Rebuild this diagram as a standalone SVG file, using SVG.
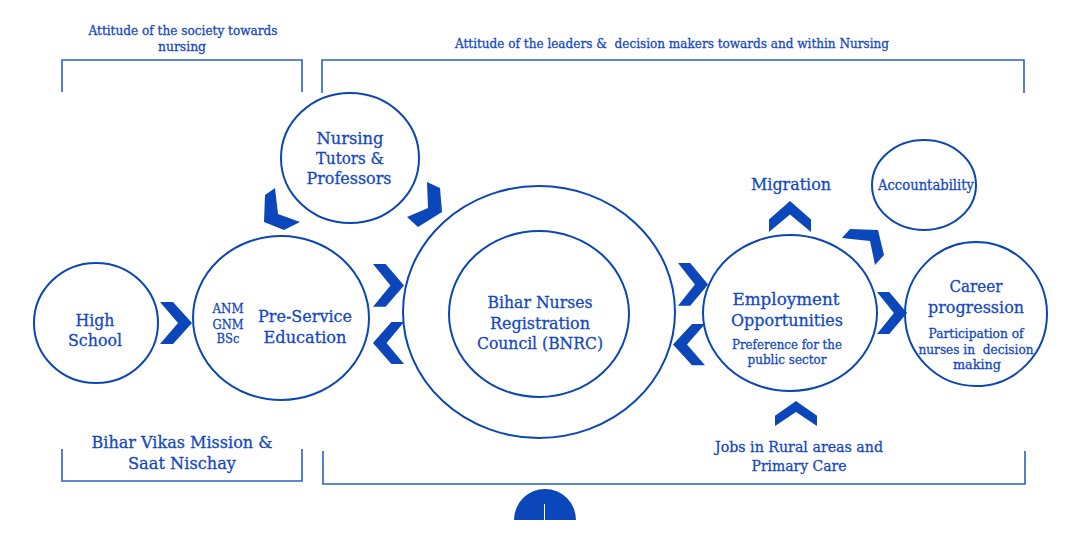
<svg xmlns="http://www.w3.org/2000/svg" xmlns:xlink="http://www.w3.org/1999/xlink" width="1086" height="541" viewBox="0 0 1086 541">
<style>
.node{fill:none;stroke:#0b46b5;stroke-width:2}
.br{fill:none;stroke:#2a62c9;stroke-width:1.6}
.chev{fill:#0b47bb}
text{font-family:"DejaVu Serif","Liberation Serif",serif;fill:#1448bf;stroke:#1448bf;stroke-width:0.3;text-anchor:middle}
.big{font-size:17px}
.mid{font-size:15.5px}
.sm{font-size:13px}
.xs{font-size:12.5px}
</style>
<defs>
<path id="chev" d="M0,0 H13 L32,21 L13,42 H0 L18,21 Z"/>
</defs>
<rect width="1086" height="541" fill="#ffffff"/>

<g id="brackets">
<path class="br" d="M62,92 V60 H302 V92"/>
<path class="br" d="M322,93 V60 H1024 V93"/>
<path class="br" d="M62,449 V481 H302 V449"/>
<path class="br" d="M323,451 V484 H1025 V451"/>
</g>

<g id="labels">
<text class="sm" x="183" y="35" textLength="189" lengthAdjust="spacingAndGlyphs">Attitude of the society towards</text>
<text class="sm" x="182" y="51" textLength="48" lengthAdjust="spacingAndGlyphs">nursing</text>
<text class="sm" x="672" y="48" textLength="434" lengthAdjust="spacingAndGlyphs" xml:space="preserve">Attitude of the leaders &amp;  decision makers towards and within Nursing</text>
<text class="big" x="182" y="448" textLength="181" lengthAdjust="spacingAndGlyphs">Bihar Vikas Mission &amp;</text>
<text class="big" x="182" y="469" textLength="108" lengthAdjust="spacingAndGlyphs">Saat Nischay</text>
<text class="mid" x="799" y="452" textLength="168" lengthAdjust="spacingAndGlyphs">Jobs in Rural areas and</text>
<text class="mid" x="799" y="471" textLength="95" lengthAdjust="spacingAndGlyphs">Primary Care</text>
<text class="big" x="791" y="190" textLength="80" lengthAdjust="spacingAndGlyphs">Migration</text>
</g>

<g id="connectors">
<use href="#chev" class="chev" transform="translate(160,302)"/>
<use href="#chev" class="chev" transform="translate(373,264) scale(0.97,1.02)"/>
<use href="#chev" class="chev" transform="translate(404,322) scale(-0.97,1)"/>
<use href="#chev" class="chev" transform="translate(678,263) scale(0.94,1.02)"/>
<use href="#chev" class="chev" transform="translate(705,324) scale(-1,0.98)"/>
<use href="#chev" class="chev" transform="translate(877,292) scale(0.94,1)"/>
<use href="#chev" class="chev" transform="translate(769,232) rotate(-90) scale(0.97,1)"/>
<use href="#chev" class="chev" transform="translate(775,426) rotate(-90) scale(0.78,1)"/>
<path class="chev" d="M265,195 L275,188 L278,214 L300,222 L284,230 L264,222 Z"/>
<path class="chev" d="M427,182 L440,188 L442,212 L418,227 L407,217 L428,208 Z"/>
<path class="chev" d="M842,238 L850,229 L878,230 L884,255 L875,265 L870,241 Z"/>
</g>

<g id="high-school">
<ellipse class="node" cx="96" cy="323" rx="62" ry="60"/>
<text class="big" x="95" y="326" textLength="39" lengthAdjust="spacingAndGlyphs">High</text>
<text class="big" x="95" y="346" textLength="54" lengthAdjust="spacingAndGlyphs">School</text>
</g>

<g id="pre-service">
<ellipse class="node" cx="281" cy="318" rx="88" ry="82"/>
<text class="sm" x="228" y="313" textLength="31" lengthAdjust="spacingAndGlyphs">ANM</text>
<text class="sm" x="228" y="329" textLength="31" lengthAdjust="spacingAndGlyphs">GNM</text>
<text class="sm" x="228" y="343" textLength="23" lengthAdjust="spacingAndGlyphs">BSc</text>
<text class="big" x="305" y="322" textLength="94" lengthAdjust="spacingAndGlyphs">Pre-Service</text>
<text class="big" x="305" y="343" textLength="83" lengthAdjust="spacingAndGlyphs">Education</text>
</g>

<g id="tutors">
<ellipse class="node" cx="350" cy="158" rx="69" ry="65"/>
<text class="big" x="350" y="144" textLength="67" lengthAdjust="spacingAndGlyphs">Nursing</text>
<text class="big" x="350" y="164" textLength="68" lengthAdjust="spacingAndGlyphs">Tutors &amp;</text>
<text class="big" x="349" y="184" textLength="85" lengthAdjust="spacingAndGlyphs">Professors</text>
</g>

<g id="bnrc">
<ellipse class="node" cx="539" cy="312" rx="136" ry="126"/>
<ellipse class="node" cx="539" cy="314" rx="90" ry="83"/>
<text class="big" x="540" y="308" textLength="105" lengthAdjust="spacingAndGlyphs">Bihar Nurses</text>
<text class="big" x="540" y="329" textLength="100" lengthAdjust="spacingAndGlyphs">Registration</text>
<text class="big" x="540" y="349" textLength="126" lengthAdjust="spacingAndGlyphs">Council (BNRC)</text>
</g>

<g id="employment">
<ellipse class="node" cx="790" cy="313" rx="87" ry="78"/>
<text class="big" x="786" y="305" textLength="107" lengthAdjust="spacingAndGlyphs">Employment</text>
<text class="big" x="787" y="326" textLength="112" lengthAdjust="spacingAndGlyphs">Opportunities</text>
<text class="sm" x="787" y="349" textLength="110" lengthAdjust="spacingAndGlyphs">Preference for the</text>
<text class="sm" x="787" y="364" textLength="79" lengthAdjust="spacingAndGlyphs">public sector</text>
</g>

<g id="accountability">
<ellipse class="node" cx="924" cy="185" rx="52" ry="45"/>
<text class="mid" x="926" y="190" textLength="96" lengthAdjust="spacingAndGlyphs">Accountability</text>
</g>

<g id="career">
<ellipse class="node" cx="976" cy="314" rx="71" ry="72"/>
<text class="big" x="976" y="292" textLength="53" lengthAdjust="spacingAndGlyphs">Career</text>
<text class="big" x="976" y="313" textLength="96" lengthAdjust="spacingAndGlyphs">progression</text>
<text class="xs" x="976" y="338" textLength="95" lengthAdjust="spacingAndGlyphs">Participation of</text>
<text class="xs" x="976" y="354" textLength="115" lengthAdjust="spacingAndGlyphs" xml:space="preserve">nurses in  decision</text>
<text class="xs" x="977" y="369" textLength="48" lengthAdjust="spacingAndGlyphs">making</text>
</g>

<g id="half-disc">
<path d="M514,520 A31,31 0 0 1 576,520 Z" fill="#0b47bb"/>
<line x1="544.5" y1="504" x2="544.5" y2="520" stroke="#ffffff" stroke-width="1"/>
</g>
</svg>
